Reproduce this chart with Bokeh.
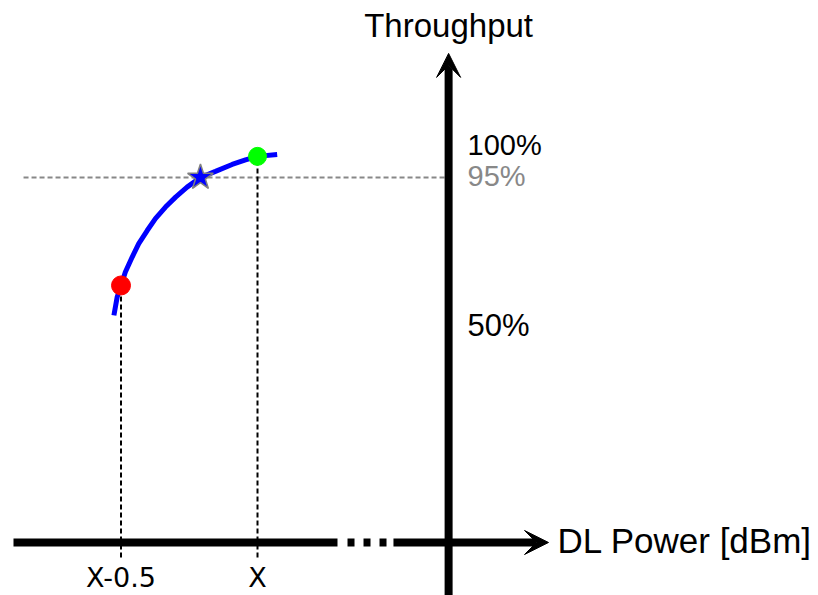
from bokeh.plotting import figure
from bokeh.models import Arrow, VeeHead, Range1d, ColumnDataSource
from bokeh.core.properties import value
from bokeh.embed import file_html
from bokeh.resources import INLINE

# ---- data (x: dB relative to X, y: throughput %) ----
curve_x = [-0.526, -0.514, -0.500, -0.484, -0.459, -0.435, -0.404, -0.374, -0.337,
           -0.300, -0.258, -0.209, -0.154, -0.093, -0.044, 0.0, 0.072]
curve_y = [59.1, 63.9, 66.9, 70.4, 74.3, 77.8, 81.2, 84.3, 87.3,
           89.9, 92.5, 95.0, 96.6, 98.4, 99.6, 100.5, 101.0]
red_x, red_y = [-0.5], [66.9]
green_x, green_y = [0.0], [100.5]
star_x, star_y = [-0.209], [95.0]
threshold = 95.0
tick_labels = ["X-0.5", "X"]
tick_values = [-0.5, 0.0]
pct_labels = ["100%", "95%", "50%"]
pct_colors = ["black", "#888888", "black"]

# ---- layout constants ----
axis_x = 0.70          # position of the vertical (throughput) axis
TXT_SHIFT = 3.2        # compensates the renderer's baseline placement
pct_label_y = [100.2 + TXT_SHIFT, 92.1 + TXT_SHIFT, 53.4 + TXT_SHIFT]
pct_sizes = ["29px", "29px", "31px"]
FONT = "Liberation Sans"

p = figure(width=818, height=595, x_range=Range1d(-0.9414, 2.0549),
           y_range=Range1d(-13.795, 141.07), output_backend="svg",
           toolbar_location=None, x_axis_location=None, y_axis_location=None,
           min_border=0, outline_line_color=None)
p.grid.visible = False
p.background_fill_color = "white"
p.border_fill_color = "white"

# 95% threshold line
p.line([-0.857, axis_x], [threshold, threshold], line_color="#888888",
       line_width=2, line_dash="5 3")

# vertical dashed projections
p.segment(x0=red_x + green_x, y0=[-3.9, -3.9], x1=red_x + green_x,
          y1=red_y + green_y, line_color="black", line_width=2, line_dash="5 3")

# horizontal axis (with break)
p.line([-0.8938, 0.293], [0, 0], line_color="black", line_width=8)
p.line([0.3297, 0.4762], [0, 0], line_color="black", line_width=8, line_dash="7 9")
p.add_layout(Arrow(end=VeeHead(size=24, fill_color="black", line_color="black"),
                   x_start=0.498, y_start=0, x_end=1.066, y_end=0,
                   line_width=8, line_color="black"))
# vertical axis
p.add_layout(Arrow(end=VeeHead(size=24, fill_color="black", line_color="black"),
                   x_start=axis_x, y_start=-16, x_end=axis_x, y_end=127.3,
                   line_width=8, line_color="black"))

# curve and markers
p.line(curve_x, curve_y, line_color="#0000ff", line_width=5)
p.scatter(red_x, red_y, size=19, fill_color="#ff0000", line_color="#ff0000")
p.scatter(green_x, green_y, size=18, fill_color="#00ff00", line_color="#00ff00")
p.scatter(star_x, star_y, marker="star", size=27, fill_color="#0000ff",
          line_color="#808080", line_width=1.5)

# texts
pct_src = ColumnDataSource(dict(x=[axis_x] * 3, y=pct_label_y, text=pct_labels,
                                color=pct_colors, size=pct_sizes))
p.text(x="x", y="y", text="text", text_color="color", text_font_size="size",
       source=pct_src, text_font=value(FONT), text_align="left",
       text_baseline="alphabetic", x_offset=19)
p.text(x=tick_values, y=[-12.2 + TXT_SHIFT] * 2, text=tick_labels, text_color="black",
       text_font=value("DejaVu Sans"), text_font_size="27px", text_align="center",
       text_baseline="alphabetic")
p.text(x=[axis_x], y=[131.4 + TXT_SHIFT], text=["Throughput"], text_color="black",
       text_font=value(FONT), text_font_size="33px", text_align="center",
       text_baseline="alphabetic")
p.text(x=[1.099], y=[-2.6 + TXT_SHIFT], text=["DL Power [dBm]"], text_color="black",
       text_font=value(FONT), text_font_size="35px", text_align="left",
       text_baseline="alphabetic")

open("out.html", "w").write(file_html(p, INLINE))
